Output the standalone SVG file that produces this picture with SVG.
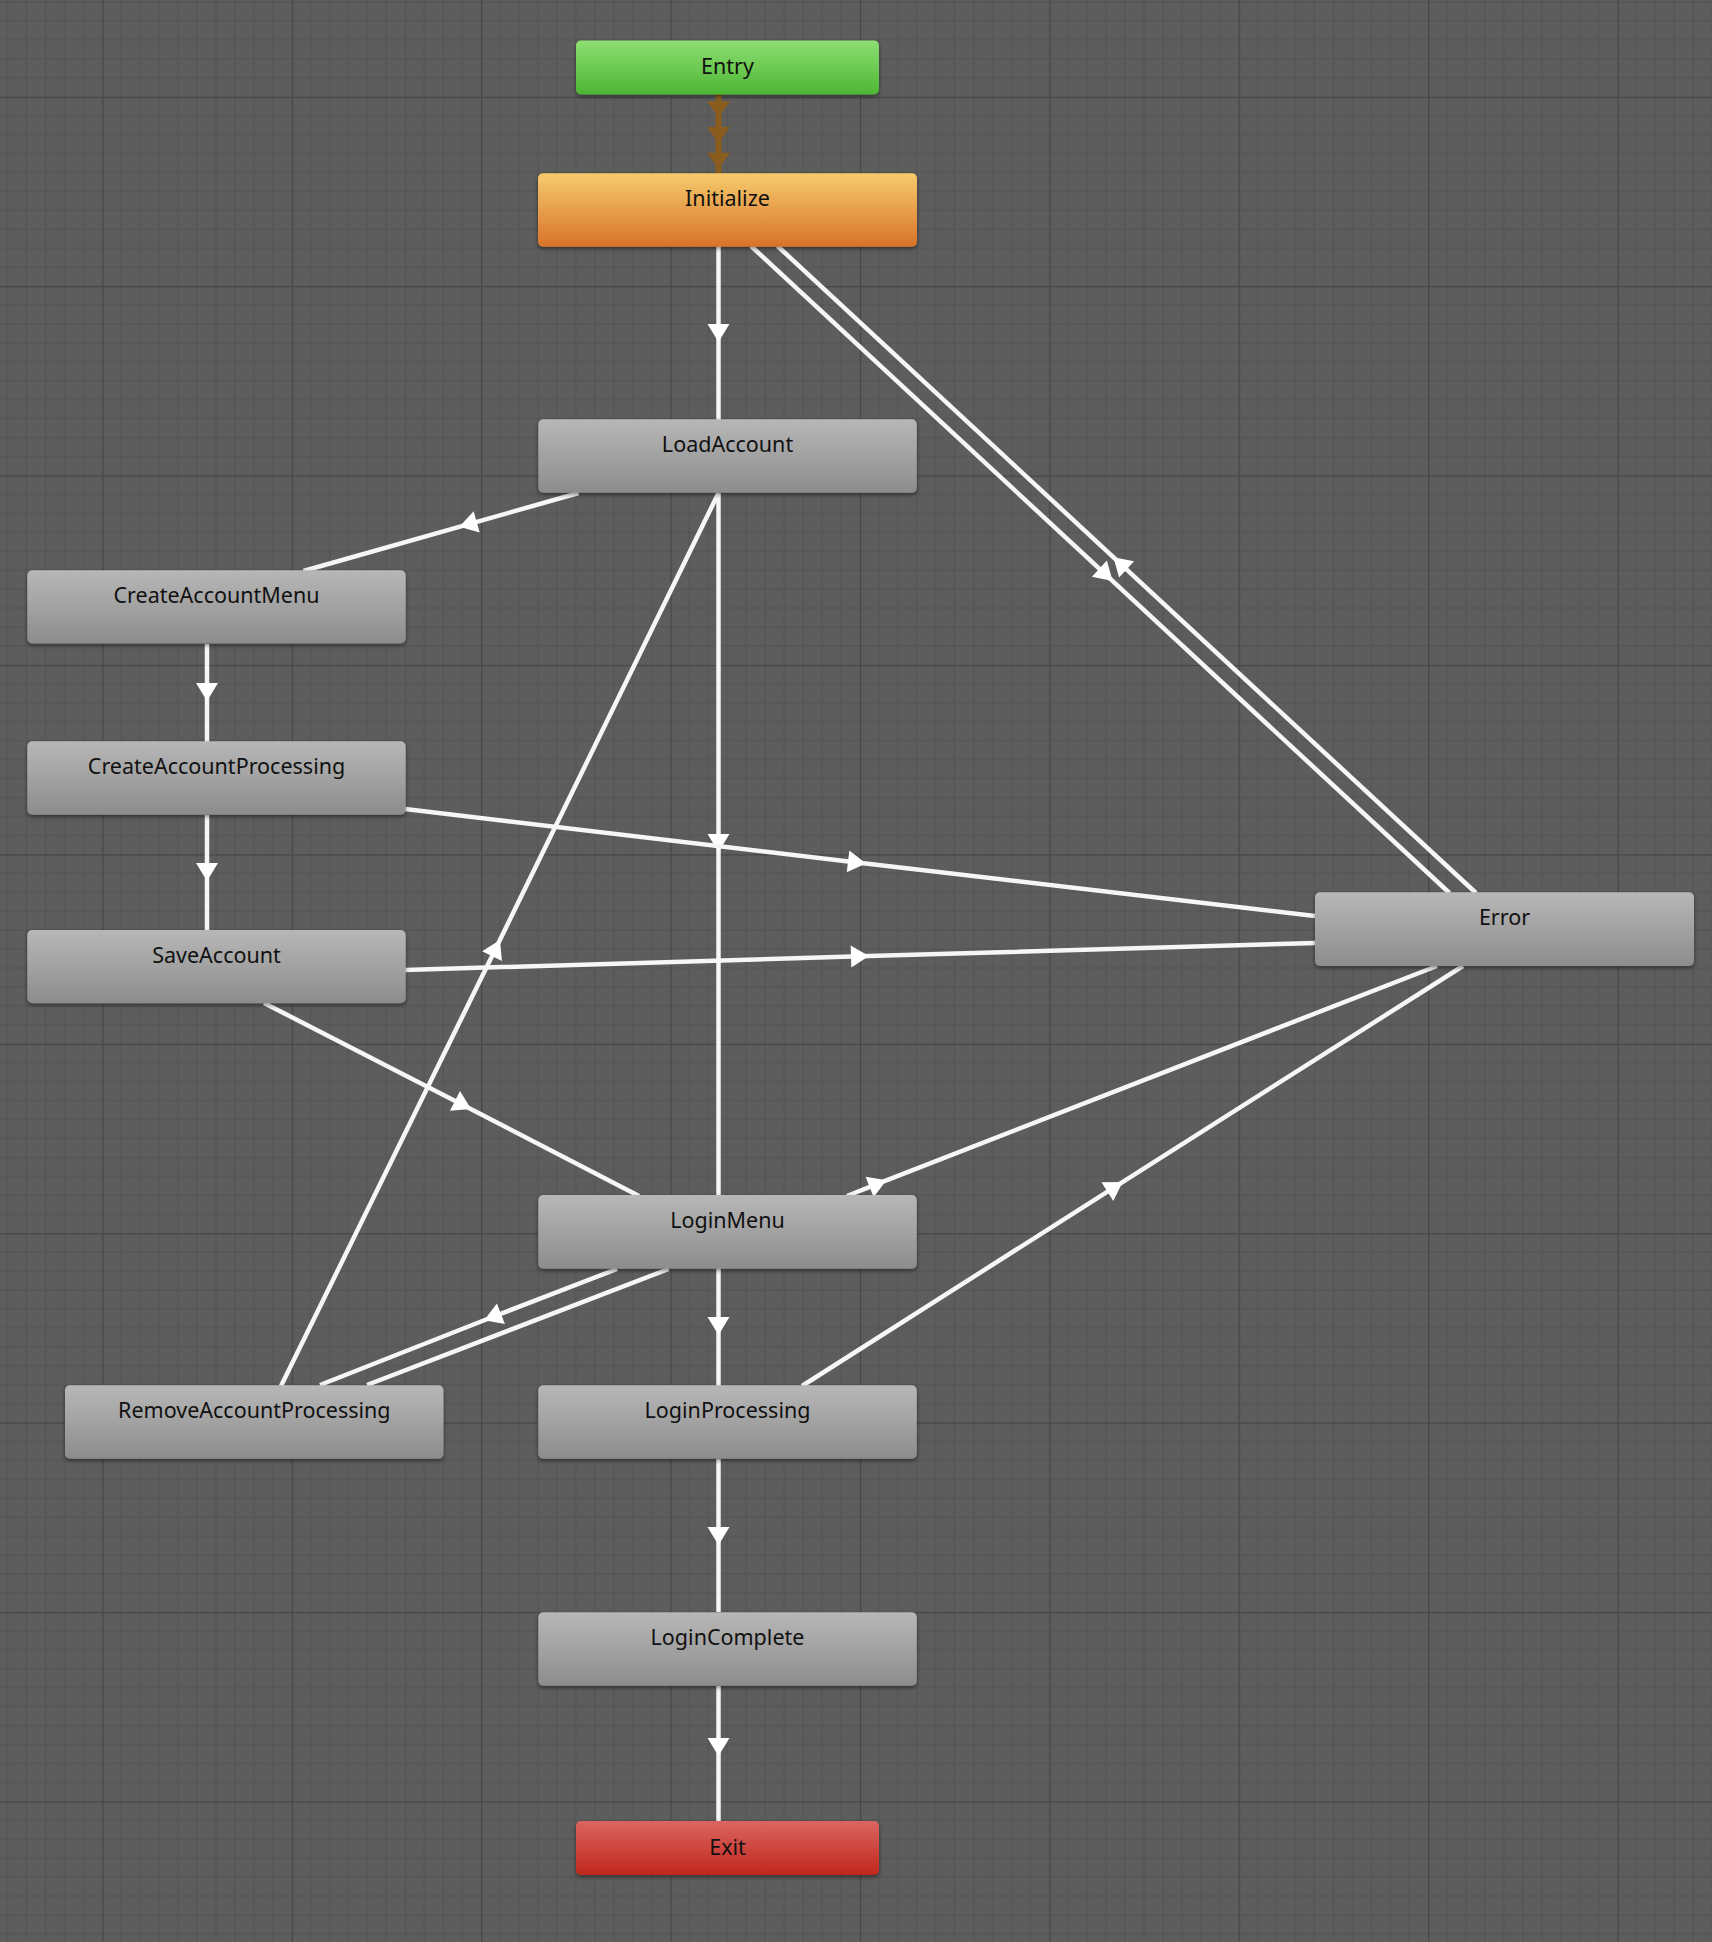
<svg xmlns="http://www.w3.org/2000/svg" width="1712" height="1942" viewBox="0 0 1712 1942">
<defs>
<pattern id="grid" patternUnits="userSpaceOnUse" x="102.3" y="96.7" width="189.4" height="189.4">
<rect width="189.4" height="189.4" fill="#5d5d5d"/>
<path d="M18.94 0V189.4M37.88 0V189.4M56.82 0V189.4M75.76 0V189.4M94.7 0V189.4M113.64 0V189.4M132.58 0V189.4M151.52 0V189.4M170.46 0V189.4M0 18.94H189.4M0 37.88H189.4M0 56.82H189.4M0 75.76H189.4M0 94.7H189.4M0 113.64H189.4M0 132.58H189.4M0 151.52H189.4M0 170.46H189.4" stroke="#535353" stroke-width="1" fill="none"/>
<path d="M0.5 0V189.4M0 0.5H189.4" stroke="#464646" stroke-width="1.5" fill="none"/>
</pattern>
<linearGradient id="gGray" x1="0" y1="0" x2="0" y2="1">
<stop offset="0" stop-color="#b7b7b7"/><stop offset="0.5" stop-color="#a2a2a2"/><stop offset="1" stop-color="#8c8c8c"/>
</linearGradient>
<linearGradient id="gGreen" x1="0" y1="0" x2="0" y2="1">
<stop offset="0" stop-color="#8ddf72"/><stop offset="1" stop-color="#4db634"/>
</linearGradient>
<linearGradient id="gOrange" x1="0" y1="0" x2="0" y2="1">
<stop offset="0" stop-color="#f6cb6c"/><stop offset="1" stop-color="#d8722a"/>
</linearGradient>
<linearGradient id="gRed" x1="0" y1="0" x2="0" y2="1">
<stop offset="0" stop-color="#db6561"/><stop offset="1" stop-color="#c0271c"/>
</linearGradient>
<filter id="sh" x="-10%" y="-30%" width="120%" height="170%">
<feDropShadow dx="0" dy="2" stdDeviation="2" flood-color="#000" flood-opacity="0.45"/>
</filter>
<marker id="aw" markerUnits="userSpaceOnUse" markerWidth="18" markerHeight="22" refX="9" refY="11" orient="auto" overflow="visible">
<path d="M0,0 L18,11 L0,22 Z" fill="#ffffff"/>
</marker>
<marker id="ab" markerUnits="userSpaceOnUse" markerWidth="16" markerHeight="23" refX="8" refY="11.5" orient="auto" overflow="visible">
<path d="M0,0 L16,11.5 L0,23 Z" fill="#8a5d1f"/>
</marker>
<style>
.ln{fill:none;stroke:#f6f6f6;stroke-width:4.5;marker-mid:url(#aw)}
.lb{fill:none;stroke:#8a5d1f;stroke-width:6;marker-mid:url(#ab)}
.nd{fill:url(#gGray);filter:url(#sh)}
.tx{font-family:"Noto Sans","DejaVu Sans",sans-serif;font-size:21.5px;fill:#111;text-anchor:middle}
</style>
</defs>
<rect width="1712" height="1942" fill="url(#grid)"/>
<g id="connectors">
<path class="lb" d="M718.5 94 L718.5 109.3 L718.5 135 L718.5 160.7 L718.5 174"/>
<path class="ln" d="M718.5 246 L718.5 333 L718.5 420"/>
<path class="ln" d="M751 246 L1106 574.8 L1449.5 893"/>
<path class="ln" d="M1476 893 L1120 563.3 L777.5 246"/>
<path class="ln" d="M578.5 493 L468 524.4 L303.5 571"/>
<path class="ln" d="M718.5 493 L718.5 843 L718.5 1196"/>
<path class="ln" d="M281 1386 L496 948 L718.5 493"/>
<path class="ln" d="M207 644 L207 692 L207 742"/>
<path class="ln" d="M207 815 L207 872 L207 930"/>
<path class="ln" d="M405 809 L857 862.4 L1315 916"/>
<path class="ln" d="M405 970 L860 956.3 L1315 943"/>
<path class="ln" d="M264 1003 L463 1105 L639 1196"/>
<path class="ln" d="M847 1196 L878 1183.6 L1437 966"/>
<path class="ln" d="M802 1386 L1115 1186.8 L1463 966"/>
<path class="ln" d="M718.5 1268 L718.5 1326 L718.5 1386"/>
<path class="ln" d="M617 1269 L492.5 1317 L320 1385"/>
<path class="ln" d="M668.6 1269 L367 1385"/>
<path class="ln" d="M718.5 1459 L718.5 1536 L718.5 1612"/>
<path class="ln" d="M718.5 1686 L718.5 1747 L718.5 1821"/>
</g>
<g id="Entry"><rect x="576" y="40.5" width="303" height="54" rx="5" fill="url(#gGreen)" filter="url(#sh)"/><text class="tx" x="727.5" y="74">Entry</text></g>
<g id="Initialize"><rect x="538" y="173.3" width="379" height="73.4" rx="5" fill="url(#gOrange)" filter="url(#sh)"/><text class="tx" x="727.5" y="206">Initialize</text></g>
<g id="LoadAccount"><rect class="nd" x="538.3" y="419.3" width="378.5" height="73.4" rx="5"/><text class="tx" x="727.5" y="452.3">LoadAccount</text></g>
<g id="CreateAccountMenu"><rect class="nd" x="27.3" y="570.3" width="378.4" height="73.2" rx="5"/><text class="tx" x="216.5" y="603.3">CreateAccountMenu</text></g>
<g id="CreateAccountProcessing"><rect class="nd" x="27.3" y="741.3" width="378.4" height="73.4" rx="5"/><text class="tx" x="216.5" y="774.3">CreateAccountProcessing</text></g>
<g id="SaveAccount"><rect class="nd" x="27.3" y="930" width="378.4" height="73.3" rx="5"/><text class="tx" x="216.5" y="963">SaveAccount</text></g>
<g id="Error"><rect class="nd" x="1315" y="892.3" width="379" height="73.7" rx="5"/><text class="tx" x="1504.5" y="925">Error</text></g>
<g id="LoginMenu"><rect class="nd" x="538.3" y="1195" width="378.5" height="73.7" rx="5"/><text class="tx" x="727.5" y="1228">LoginMenu</text></g>
<g id="RemoveAccountProcessing"><rect class="nd" x="65" y="1385.3" width="378.5" height="73.4" rx="5"/><text class="tx" x="254.3" y="1418.3">RemoveAccountProcessing</text></g>
<g id="LoginProcessing"><rect class="nd" x="538.3" y="1385.3" width="378.5" height="73.4" rx="5"/><text class="tx" x="727.5" y="1418.3">LoginProcessing</text></g>
<g id="LoginComplete"><rect class="nd" x="538.3" y="1612.3" width="378.5" height="73.4" rx="5"/><text class="tx" x="727.5" y="1645.3">LoginComplete</text></g>
<g id="Exit"><rect x="576" y="1821" width="303" height="54" rx="5" fill="url(#gRed)" filter="url(#sh)"/><text class="tx" x="727.5" y="1855">Exit</text></g>
</svg>
